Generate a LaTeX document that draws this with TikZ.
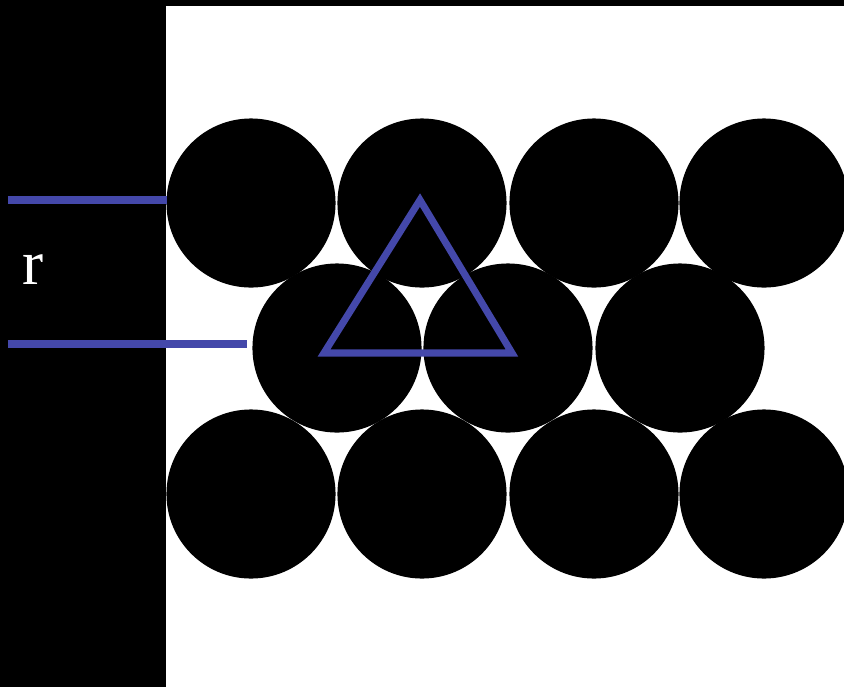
\documentclass[tikz,border=0pt]{standalone}
\usepackage{fontspec}
\setmainfont{Liberation Serif}
\usetikzlibrary{positioning}
\definecolor{latticeblue}{RGB}{68,72,170}

\begin{document}
\begin{tikzpicture}[
        x=0.01cm, y=-0.01cm,
        ball/.style={circle, fill=black, inner sep=0pt, minimum size=1.69cm},
        guide/.style={draw=latticeblue, line width=2pt},
        label/.style={text=white, font=\fontsize{18}{18}\selectfont}
    ]
        % background
        \fill[black] (0,0) rectangle (844,687);
        \fill[white] (166,6) rectangle (844,687);
        \useasboundingbox (0,0) rectangle (844,687);

        % packed spheres
        \foreach \i/\x in {1/251,2/422,3/594,4/764} {
            \node[ball] (top\i) at (\x,203) {};
            \node[ball] (bot\i) at (\x,494) {};
        }
        \foreach \i/\x in {1/337,2/508,3/680} {
            \node[ball] (mid\i) at (\x,348) {};
        }

        % radius markers
        \coordinate (upA) at (8,200);
        \coordinate (upB) at (167,200);
        \coordinate (loA) at (8,344);
        \coordinate (loB) at (247,344);
        \draw[guide] (upA) -- (upB);
        \draw[guide] (loA) -- (loB);
        \node[label] (r) at (33,270) {r};

        % triangle between centres
        \coordinate (apex) at (420,200);
        \coordinate (baseL) at (324,353);
        \coordinate (baseR) at (512,353);
        \draw[guide, line join=miter] (apex) -- (baseR) -- (baseL) -- cycle;
    \end{tikzpicture}
\end{document}
